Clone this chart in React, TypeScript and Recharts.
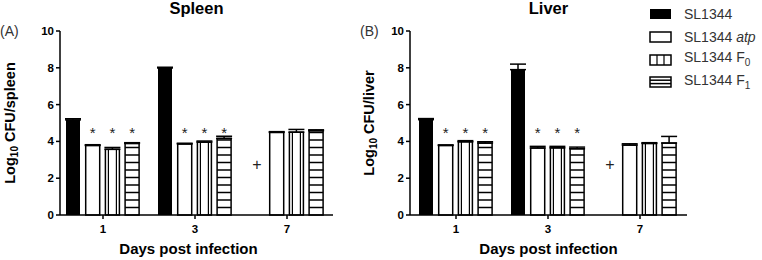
import React from "react";
import {
  BarChart,
  Bar,
  XAxis,
  YAxis,
  ErrorBar,
  LabelList,
  Legend,
} from "recharts";

const FONT = '"Liberation Sans", Arial, sans-serif';

// x categories: days post infection
const days = ["1", "3", "7"];

// spleen, log10 CFU (mean) and upper error
const spleenWT = [5.17, 7.99, 0];
const spleenWTErr = [0.06, 0.04, null];
const spleenAtp = [3.78, 3.86, 4.49];
const spleenAtpErr = [0.04, 0.04, 0.04];
const spleenF0 = [3.57, 3.96, 4.5];
const spleenF0Err = [0.1, 0.06, 0.15];
const spleenF1 = [3.89, 4.16, 4.58];
const spleenF1Err = [0.04, 0.12, 0.05];

// liver
const liverWT = [5.18, 7.9, 0];
const liverWTErr = [0.06, 0.3, null];
const liverAtp = [3.78, 3.64, 3.8];
const liverAtpErr = [0.03, 0.09, 0.07];
const liverF0 = [3.98, 3.65, 3.89];
const liverF0Err = [0.06, 0.08, 0.04];
const liverF1 = [3.91, 3.6, 3.91];
const liverF1Err = [0.07, 0.09, 0.36];

// annotations: * significant vs SL1344, + all SL1344 mice dead
const wtMarks = ["", "", "+"];
const mutantMarks = ["*", "*", ""];
const STAR_LEVEL = 4.68;
const PLUS_LEVEL = 2.77;

const yTicks = [0, 2, 4, 6, 8, 10];
const Y_MAX = 10;
const PLOT_TOP = 31;
const PLOT_BOTTOM = 215;
const HEIGHT = 260;
const BAR_SIZE = 14;
const BAR_GAP = 5.7;

const buildRows = (wt, wtErr, atp, atpErr, f0, f0Err, f1, f1Err) =>
  days.map((day, i) => ({
    day,
    wt: wt[i],
    wtErr: wtErr[i] == null ? null : [0, wtErr[i]],
    atp: atp[i],
    atpErr: [0, atpErr[i]],
    f0: f0[i],
    f0Err: [0, f0Err[i]],
    f1: f1[i],
    f1Err: [0, f1Err[i]],
    wtMark: wtMarks[i],
    mutMark: mutantMarks[i],
  }));

const spleenRows = buildRows(
  spleenWT, spleenWTErr, spleenAtp, spleenAtpErr,
  spleenF0, spleenF0Err, spleenF1, spleenF1Err
);
const liverRows = buildRows(
  liverWT, liverWTErr, liverAtp, liverAtpErr,
  liverF0, liverF0Err, liverF1, liverF1Err
);

// ---- bar shapes ----
const OpenBar = (props: any) => {
  const { x, y, width, height } = props;
  if (!height || !width) return null;
  return (
    <rect x={x} y={y} width={width} height={height} fill="#fff" stroke="#000" strokeWidth={1.5} />
  );
};

const VStripeBar = (props: any) => {
  const { x, y, width, height, inset } = props;
  if (!height || !width) return null;
  const d = inset ?? 3;
  return (
    <g>
      <OpenBar {...props} />
      <line x1={x + d} x2={x + d} y1={y} y2={y + height} stroke="#000" strokeWidth={1.2} />
      <line x1={x + width - d} x2={x + width - d} y1={y} y2={y + height} stroke="#000" strokeWidth={1.2} />
    </g>
  );
};

const HStripeBar = (props: any) => {
  const { x, y, width, height, step } = props;
  if (!height || !width) return null;
  const s = step ?? 7.5;
  const lines = [];
  for (let yy = y + height - s; yy > y + 1.5; yy -= s) {
    lines.push(
      <line key={yy} x1={x} x2={x + width} y1={yy} y2={yy} stroke="#000" strokeWidth={1.5} />
    );
  }
  return (
    <g>
      <OpenBar {...props} />
      {lines}
    </g>
  );
};

// star / plus above bars, placed at a value level through the bar's own scale.
// slot shifts the mark sideways by whole bar slots (used for the missing SL1344 bar)
const MarkLabel = (props: any) => {
  const vb = props.viewBox && props.viewBox.width != null ? props.viewBox : props;
  const { x, y, width, height } = vb;
  const value = props.value;
  if (!value) return null;
  const bottom = y + (height || 0);
  const pxPerUnit = (bottom - PLOT_TOP) / Y_MAX;
  const isPlus = value === "+";
  const level = isPlus ? PLUS_LEVEL : STAR_LEVEL;
  const fs = isPlus ? 16 : 15;
  const cy = bottom - level * pxPerUnit;
  const cx = x + width / 2 + (props.slot || 0) * (width + BAR_GAP);
  return (
    <text
      x={cx}
      y={cy + (isPlus ? 0.36 : 0.6) * fs}
      textAnchor="middle"
      fontSize={fs}
      fontFamily={FONT}
      fill="#222"
    >
      {value}
    </text>
  );
};

const YTitle = (props: any) => {
  const { viewBox, organ, dx } = props;
  const cx = viewBox.x + dx;
  const cy = viewBox.y + viewBox.height / 2;
  return (
    <text
      x={cx}
      y={cy}
      transform={`rotate(-90, ${cx}, ${cy})`}
      textAnchor="middle"
      dominantBaseline="central"
      fontSize={14.5}
      fontWeight="bold"
      fontFamily={FONT}
      fill="#000"
    >
      Log
      <tspan fontSize={10} dy={4}>10</tspan>
      <tspan dy={-4}>{` CFU/${organ}`}</tspan>
    </text>
  );
};

const XTitle = (props: any) => {
  const { viewBox, shift } = props;
  return (
    <text
      x={viewBox.x + viewBox.width / 2 + (shift || 0)}
      y={viewBox.y + 39}
      textAnchor="middle"
      fontSize={15}
      fontWeight="bold"
      fontFamily={FONT}
      fill="#000"
    >
      Days post infection
    </text>
  );
};

const legendItems = [
  { key: "wt", label: <>SL1344</> },
  { key: "atp", label: <>SL1344 <i>atp</i></> },
  { key: "f0", label: <>SL1344 F<sub style={{ fontSize: 10 }}>0</sub></> },
  { key: "f1", label: <>SL1344 F<sub style={{ fontSize: 10 }}>1</sub></> },
];

const Swatch = ({ kind }: { kind: string }) => {
  const p = { x: 1, y: 1, width: 21, height: 10 };
  return (
    <svg width={23} height={12} style={{ display: "block" }}>
      {kind === "wt" && <rect {...p} fill="#000" />}
      {kind === "atp" && <OpenBar {...p} />}
      {kind === "f0" && <VStripeBar {...p} inset={7} />}
      {kind === "f1" && <HStripeBar {...p} step={3.4} />}
    </svg>
  );
};

const LegendBox = () => (
  <div style={{ fontFamily: FONT, fontSize: 14, color: "#333" }}>
    {legendItems.map((it) => (
      <div key={it.key} style={{ display: "flex", alignItems: "center", height: 22.7 }}>
        <Swatch kind={it.key} />
        <span style={{ marginLeft: 12, lineHeight: "14px", whiteSpace: "nowrap" }}>{it.label}</span>
      </div>
    ))}
  </div>
);

const Panel = ({ rows, organ, title, letter, left, width, yAxisWidth, rightMargin, xPad, xShift, yDx, legend }: any) => {
  const plotCenter = yAxisWidth + (width - yAxisWidth - rightMargin) / 2;
  return (
    <div style={{ position: "absolute", left, top: 0, width, height: HEIGHT }}>
      <div
        style={{
          position: "absolute",
          left: plotCenter - 60,
          width: 120,
          top: 0,
          textAlign: "center",
          fontFamily: FONT,
          fontWeight: "bold",
          fontSize: 16.5,
          lineHeight: "16px",
        }}
      >
        {title}
      </div>
      <div
        style={{
          position: "absolute",
          left: 0,
          top: 23,
          fontFamily: FONT,
          fontSize: 14,
          lineHeight: "16px",
          color: "#333",
        }}
      >
        {letter}
      </div>
      <BarChart
        width={width}
        height={HEIGHT}
        data={rows}
        margin={{ top: PLOT_TOP, right: rightMargin, bottom: 0, left: 0 }}
        barSize={BAR_SIZE}
        barGap={BAR_GAP}
      >
        <XAxis
          dataKey="day"
          height={HEIGHT - PLOT_BOTTOM}
          padding={xPad}
          tick={{ fontSize: 11.5, fontWeight: "bold", fill: "#000", fontFamily: FONT }}
          tickSize={4}
          tickMargin={6}
          axisLine={{ stroke: "#000", strokeWidth: 1.5 }}
          tickLine={{ stroke: "#000", strokeWidth: 1.5 }}
          label={<XTitle shift={xShift} />}
        />
        <YAxis
          width={yAxisWidth}
          domain={[0, Y_MAX]}
          ticks={yTicks}
          interval={0}
          tick={{ fontSize: 11.5, fontWeight: "bold", fill: "#000", fontFamily: FONT }}
          tickSize={4}
          tickMargin={2}
          axisLine={{ stroke: "#000", strokeWidth: 1.5 }}
          tickLine={{ stroke: "#000", strokeWidth: 1.5 }}
          label={<YTitle organ={organ} dx={yDx} />}
        />
        {legend && (
          <Legend
            layout="vertical"
            align="center"
            verticalAlign="middle"
            content={<LegendBox />}
            wrapperStyle={{ left: 289, top: 3, width: 120 }}
          />
        )}
        <Bar dataKey="wt" fill="#000" isAnimationActive={false}>
          <ErrorBar dataKey="wtErr" width={8} stroke="#000" strokeWidth={1.5} direction="y" />
        </Bar>
        <Bar dataKey="atp" fill="#fff" shape={<OpenBar />} isAnimationActive={false}>
          <ErrorBar dataKey="atpErr" width={8} stroke="#000" strokeWidth={1.5} direction="y" />
          <LabelList dataKey="mutMark" content={<MarkLabel />} />
          <LabelList dataKey="wtMark" content={<MarkLabel slot={-1} />} />
        </Bar>
        <Bar dataKey="f0" fill="#fff" shape={<VStripeBar />} isAnimationActive={false}>
          <ErrorBar dataKey="f0Err" width={8} stroke="#000" strokeWidth={1.5} direction="y" />
          <LabelList dataKey="mutMark" content={<MarkLabel />} />
        </Bar>
        <Bar dataKey="f1" fill="#fff" shape={<HStripeBar />} isAnimationActive={false}>
          <ErrorBar dataKey="f1Err" width={8} stroke="#000" strokeWidth={1.5} direction="y" />
          <LabelList dataKey="mutMark" content={<MarkLabel />} />
        </Bar>
      </BarChart>
    </div>
  );
};

export default function App() {
  return (
    <div style={{ position: "absolute", left: 0, top: 0, width: 762, height: HEIGHT, background: "#fff" }}>
      <Panel
        rows={spleenRows}
        organ="spleen"
        title="Spleen"
        letter="(A)"
        left={0}
        width={360}
        yAxisWidth={60}
        rightMargin={27}
        xPad={{ left: -3, right: 0 }}
        xShift={-8}
        yDx={10}
      />
      <Panel
        rows={liverRows}
        organ="liver"
        title="Liver"
        letter="(B)"
        left={360}
        width={402}
        yAxisWidth={50}
        rightMargin={75}
        xPad={{ left: 0, right: 1 }}
        xShift={0}
        yDx={9}
        legend
      />
    </div>
  );
}
